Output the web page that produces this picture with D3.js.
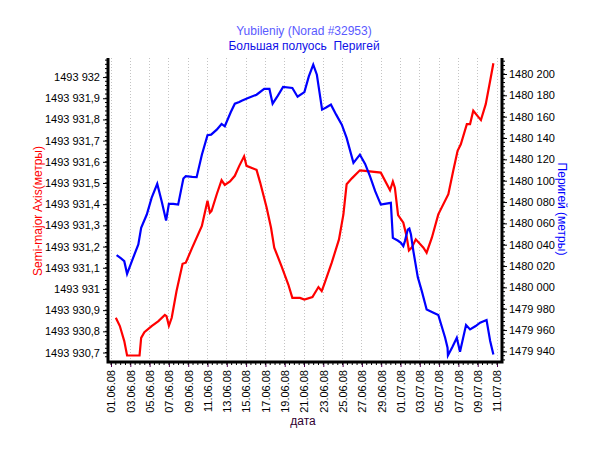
<!DOCTYPE html>
<html>
<head>
<meta charset="utf-8">
<script src="https://cdn.jsdelivr.net/npm/d3@7"></script>
<style>
  html, body { margin: 0; padding: 0; background: #fff; }
  svg { display: block; font-family: "Liberation Sans", Arial, sans-serif; }
  text { white-space: pre; }
</style>
</head>
<body>
<svg id="chart" width="600" height="450"></svg>
<script>
// Большая полуось: часы от 01.06.08 00:00 и значения (метры)
const smaHours = [12,22,33,40,71,75,83,101,118,134,
  138,144,151,163,178,186,202,226,240,246,
  250,263,275,283,296,308,319,331,337,362,
  371,387,398,406,424,441,451,470,481,501,
  516,524,530,549,567,578,586,599,619,632,
  671,694,701,706,714,727,735,741,748,758,
  777,785,798,814,839,851,862,870,885,893,
  901,920,932,943,951];
const smaValues = [1493930.864,1493930.825,1493930.754,1493930.686,1493930.686,1493930.769,1493930.796,1493930.825,1493930.848,1493930.877,
  1493930.872,1493930.827,1493930.864,1493930.990,1493931.119,1493931.124,1493931.195,1493931.297,1493931.416,1493931.360,
  1493931.368,1493931.447,1493931.513,1493931.491,1493931.507,1493931.534,1493931.581,1493931.626,1493931.581,1493931.562,
  1493931.502,1493931.384,1493931.289,1493931.195,1493931.108,1493931.021,1493930.958,1493930.958,1493930.950,1493930.962,
  1493931.009,1493930.990,1493931.021,1493931.124,1493931.234,1493931.352,1493931.494,1493931.522,1493931.560,1493931.557,
  1493931.549,1493931.466,1493931.507,1493931.478,1493931.349,1493931.313,1493931.250,1493931.182,1493931.195,1493931.234,
  1493931.195,1493931.171,1493931.242,1493931.352,1493931.447,1493931.557,1493931.652,1493931.683,1493931.778,1493931.778,
  1493931.841,1493931.797,1493931.872,1493931.983,1493932.065];

// Перигей: часы от 01.06.08 00:00 и значения (метры)
const perHours = [14,25,33,40,55,68,75,89,101,115,
  126,137,144,155,167,180,186,202,213,226,
  240,249,263,275,283,298,308,319,325,341,
  362,381,394,402,415,428,451,464,481,492,
  503,512,525,536,547,560,574,586,603,619,
  632,644,657,671,681,696,701,713,721,727,
  731,738,742,746,752,763,773,785,802,814,
  831,837,838,849,860,868,883,893,907,918,
  934,943,951];
const perValues = [1480030.2,1480027.1,1480024.6,1480012.7,1480027.7,1480040.2,1480055.8,1480068.3,1480083.9,1480097.0,
  1480080.8,1480062.6,1480078.3,1480078.3,1480077.6,1480102.0,1480104.2,1480103.6,1480103.3,1480124.4,
  1480142.6,1480143.2,1480147.8,1480153.2,1480151.0,1480164.4,1480172.2,1480173.8,1480175.0,1480177.5,
  1480180.6,1480186.0,1480186.0,1480172.2,1480179.7,1480187.8,1480186.9,1480178.7,1480183.1,1480197.8,
  1480208.7,1480199.3,1480166.6,1480168.8,1480171.3,1480161.9,1480152.5,1480140.1,1480116.7,1480124.4,
  1480115.7,1480104.2,1480090.2,1480077.6,1480078.3,1480079.2,1480046.4,1480043.9,1480041.8,1480038.7,
  1480043.4,1480054.2,1480055.2,1480049.5,1480034.0,1480009.6,1479996.5,1479979.3,1479976.2,1479974.1,
  1479952.8,1479943.5,1479936.2,1479944.1,1479952.8,1479939.7,1479964.7,1479960.6,1479963.8,1479966.9,
  1479969.4,1479949.7,1479937.2];

const titleLines = ['Yubileniy (Norad #32953)', 'Большая полуось  Перигей'];
const leftTitle  = 'Semi-major Axis(метры)';
const rightTitle = 'Перигей (метры)';
const xTitle     = 'дата';

const START = new Date(2008, 5, 1);
const END   = new Date(2008, 6, 11);

const C_SMA = '#ff0000';
const C_PER = '#0000ff';
const C_GRID = '#c4c4c4';

const L = 108, R = 502, T = 58, B = 362;

// Локаль: десятичная запятая, разделитель групп — пробел ("1493 931,9")
const loc = d3.formatLocale({ decimal: ',', thousands: ' ', grouping: [3, 4], currency: ['', ''] });
const fmtL = loc.format(',.1~f');
const fmtR = loc.format(',d');

const svg = d3.select('#chart');

const x  = d3.scaleTime().domain([START, END]).range([111, 497]);
const yL = d3.scaleLinear().domain([1493930.66, 1493932.09]).range([361, 58]);
const yR = d3.scaleLinear().domain([1479931, 1480215]).range([361, 58]);

const sma = smaHours.map((h, i) => ({ t: d3.timeHour.offset(START, h), v: smaValues[i] }));
const per = perHours.map((h, i) => ({ t: d3.timeHour.offset(START, h), v: perValues[i] }));

const xMajor = d3.timeDay.every(2).range(START, d3.timeDay.offset(END, 1));
const xMinor = d3.timeHour.every(12).range(START, d3.timeHour.offset(END, 1));
const lTicks = d3.range(9307, 9321).map(k => 1493000 + k / 10);
const lMinor = d3.range(46534, 46605).map(k => 1493000 + k / 50)
  .filter(v => v > 1493930.66 && v < 1493932.09);
const rTicks = d3.range(1479940, 1480201, 20);
const rMinor = d3.range(1479932, 1480215, 4);

// Сетка
svg.append('g').selectAll('line').data(xMajor).join('line')
  .attr('x1', d => x(d)).attr('x2', d => x(d))
  .attr('y1', T).attr('y2', B)
  .attr('stroke', C_GRID).attr('stroke-width', 1)
  .attr('stroke-dasharray', '1,2')
  .attr('shape-rendering', 'crispEdges');

// Линии
const lineL = d3.line().x(d => x(d.t)).y(d => yL(d.v));
const lineR = d3.line().x(d => x(d.t)).y(d => yR(d.v));

svg.append('path').datum(sma).attr('d', lineL)
  .attr('fill', 'none').attr('stroke', C_SMA).attr('stroke-width', 2.2);
svg.append('path').datum(per).attr('d', lineR)
  .attr('fill', 'none').attr('stroke', C_PER).attr('stroke-width', 2.2);

// Оси
const gL = svg.append('g').attr('transform', `translate(${L},0)`)
  .call(d3.axisLeft(yL).tickValues(lTicks).tickFormat(fmtL).tickSize(5).tickPadding(3).tickSizeOuter(0));
const gR = svg.append('g').attr('transform', `translate(${R},0)`)
  .call(d3.axisRight(yR).tickValues(rTicks).tickFormat(fmtR).tickSize(5).tickPadding(2).tickSizeOuter(0));
const gX = svg.append('g').attr('transform', `translate(0,${B})`)
  .call(d3.axisBottom(x).tickValues(xMajor).tickFormat(d3.timeFormat('%d.%m.%y')).tickSize(5).tickPadding(2).tickSizeOuter(0));

[gL, gR, gX].forEach(g => {
  g.select('.domain').remove();
  g.selectAll('text').attr('fill', '#000').style('font-size', '11px')
    .style('font-family', '"Liberation Sans", Arial, sans-serif');
  g.selectAll('.tick line').attr('stroke', '#000');
});
gX.selectAll('.tick line').attr('stroke', '#500050');
gX.selectAll('text')
  .attr('transform', 'rotate(-90)')
  .attr('text-anchor', 'end')
  .attr('dy', '0.35em')
  .attr('x', -8).attr('y', 0);

// Малые деления
svg.append('g').selectAll('line').data(xMinor).join('line')
  .attr('x1', d => x(d)).attr('x2', d => x(d))
  .attr('y1', B).attr('y2', B + 3).attr('stroke', '#000');
svg.append('g').selectAll('line').data(lMinor).join('line')
  .attr('x1', L - 3).attr('x2', L).attr('y1', d => yL(d)).attr('y2', d => yL(d)).attr('stroke', '#000');
svg.append('g').selectAll('line').data(rMinor).join('line')
  .attr('x1', R).attr('x2', R + 3).attr('y1', d => yR(d)).attr('y2', d => yR(d)).attr('stroke', '#000');

// Рамка осей (без верхней линии)
svg.append('path')
  .attr('d', `M${L},${T}V${B}H${R}V${T}`)
  .attr('fill', 'none').attr('stroke', '#000').attr('stroke-width', 3)
  .attr('stroke-linejoin', 'miter');

// Заголовки
svg.append('text').attr('x', 304).attr('y', 35).attr('text-anchor', 'middle')
  .attr('fill', '#5a5aff').style('font-size', '12px').text(titleLines[0]);
svg.append('text').attr('x', 304).attr('y', 50).attr('text-anchor', 'middle')
  .attr('fill', '#1010e8').style('font-size', '12px').text(titleLines[1]);

svg.append('text').attr('transform', 'translate(42,211) rotate(-90)')
  .attr('text-anchor', 'middle').attr('fill', C_SMA).style('font-size', '12px').text(leftTitle);
svg.append('text').attr('transform', 'translate(558,209) rotate(90)')
  .attr('text-anchor', 'middle').attr('fill', C_PER).style('font-size', '12px').text(rightTitle);
svg.append('text').attr('x', 303).attr('y', 425).attr('text-anchor', 'middle')
  .attr('fill', '#300030').style('font-size', '12px').text(xTitle);
</script>
</body>
</html>
